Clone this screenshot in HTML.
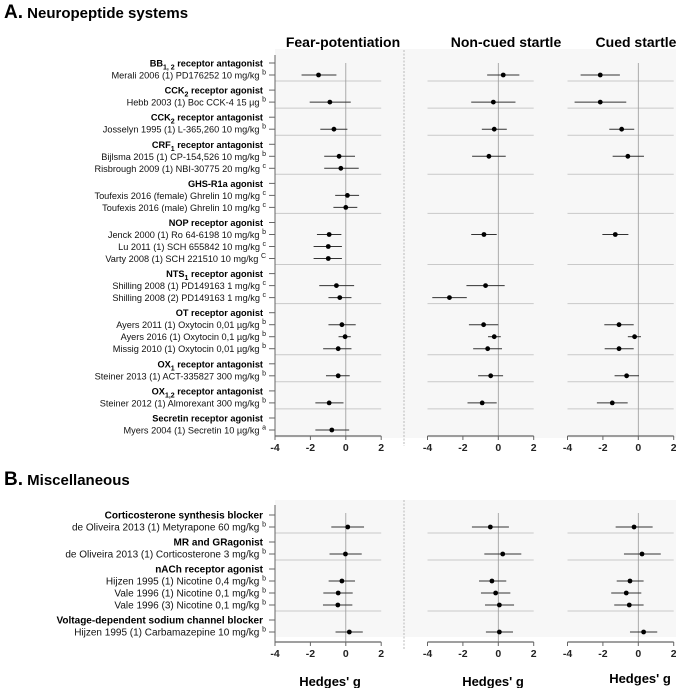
<!DOCTYPE html>
<html><head><meta charset="utf-8"><style>
html,body{margin:0;padding:0;background:#fff}
svg{display:block;font-family:"Liberation Sans",Arial,sans-serif}
</style></head><body>
<svg id="chart" width="676" height="688" viewBox="0 0 676 688" xmlns="http://www.w3.org/2000/svg">
<rect x="275" y="49" width="401" height="389" fill="#f7f7f7"/>
<rect x="275" y="500" width="401" height="137" fill="#f7f7f7"/>
<text x="4" y="18" font-weight="bold" font-size="15"><tspan font-size="19">A.</tspan> Neuropeptide systems</text>
<text x="4" y="485" font-weight="bold" font-size="15"><tspan font-size="19">B.</tspan> Miscellaneous</text>
<text x="343" y="47" text-anchor="middle" font-weight="bold" font-size="14">Fear-potentiation</text>
<text x="506" y="47" text-anchor="middle" font-weight="bold" font-size="14">Non-cued startle</text>
<text x="636" y="47" text-anchor="middle" font-weight="bold" font-size="14">Cued startle</text>
<line x1="404" y1="50" x2="404" y2="446" stroke="#aaa" stroke-width="0.8" stroke-dasharray="2,1.5"/>
<line x1="404" y1="500" x2="404" y2="650" stroke="#aaa" stroke-width="0.8" stroke-dasharray="2,1.5"/>
<text x="330" y="686" text-anchor="middle" font-weight="bold" font-size="13">Hedges' g</text>
<text x="493" y="686" text-anchor="middle" font-weight="bold" font-size="13">Hedges' g</text>
<text x="640" y="683" text-anchor="middle" font-weight="bold" font-size="13">Hedges' g</text>
<g id="plot"></g>
</svg>
<script>
// ---- Panel A data ----
const aGroups = ["BB<tspan font-size='7' dy='3'>1, 2</tspan><tspan dy='-3'> receptor antagonist</tspan>",
 "CCK<tspan font-size='7' dy='3'>2</tspan><tspan dy='-3'> receptor agonist</tspan>",
 "CCK<tspan font-size='7' dy='3'>2</tspan><tspan dy='-3'> receptor antagonist</tspan>",
 "CRF<tspan font-size='7' dy='3'>1</tspan><tspan dy='-3'> receptor antagonist</tspan>",
 "GHS-R1a agonist",
 "NOP receptor agonist",
 "NTS<tspan font-size='7' dy='3'>1</tspan><tspan dy='-3'> receptor agonist</tspan>",
 "OT receptor agonist",
 "OX<tspan font-size='7' dy='3'>1</tspan><tspan dy='-3'> receptor antagonist</tspan>",
 "OX<tspan font-size='7' dy='3'>1,2</tspan><tspan dy='-3'> receptor antagonist</tspan>",
 "Secretin receptor agonist"];
const aStudies = ["Merali 2006 (1) PD176252 10 mg/kg","Hebb 2003 (1) Boc CCK-4 15 µg","Josselyn 1995 (1) L-365,260 10 mg/kg",
 "Bijlsma 2015 (1) CP-154,526 10 mg/kg","Risbrough 2009 (1) NBI-30775 20 mg/kg",
 "Toufexis 2016 (female) Ghrelin 10 mg/kg","Toufexis 2016 (male) Ghrelin 10 mg/kg",
 "Jenck 2000 (1) Ro 64-6198 10 mg/kg","Lu 2011 (1) SCH 655842 10 mg/kg","Varty 2008 (1) SCH 221510 10 mg/kg",
 "Shilling 2008 (1) PD149163 1 mg/kg","Shilling 2008 (2) PD149163 1 mg/kg",
 "Ayers 2011 (1) Oxytocin 0,01 µg/kg","Ayers 2016 (1) Oxytocin 0,1 µg/kg","Missig 2010 (1) Oxytocin 0,01 µg/kg",
 "Steiner 2013 (1) ACT-335827 300 mg/kg","Steiner 2012 (1) Almorexant 300 mg/kg","Myers 2004 (1) Secretin 10 µg/kg"];
const aSup = ["b","b","b","b","c","c","c","b","c","C","c","c","b","b","b","b","b","a"];
const aGroupOf = [0,1,2,3,3,4,4,5,5,5,6,6,7,7,7,8,9,10];
const aFear = [-1.54,-0.9,-0.67,-0.38,-0.28,0.09,0,-0.94,-0.99,-0.99,-0.53,-0.34,-0.22,-0.04,-0.43,-0.43,-0.94,-0.79];
const aFearLo = [-2.5,-2.04,-1.44,-1.22,-1.22,-0.6,-0.7,-1.63,-1.82,-1.82,-1.5,-0.98,-0.98,-0.41,-1.28,-1.12,-1.72,-1.72];
const aFearHi = [-0.53,0.28,0.09,0.52,0.73,0.75,0.65,-0.25,-0.22,-0.22,0.47,0.32,0.56,0.28,0.32,0.22,-0.13,0.19];
const aNon = [0.28,-0.28,-0.23,-0.53,null,null,null,-0.81,null,null,-0.72,-2.76,-0.83,-0.23,-0.6,-0.43,-0.91,null];
const aNonLo = [-0.63,-1.53,-0.93,-1.48,null,null,null,-1.53,null,null,-1.8,-3.73,-1.66,-0.58,-1.42,-1.14,-1.74,null];
const aNonHi = [1.19,0.97,0.48,0.42,null,null,null,-0.09,null,null,0.36,-1.78,0,0.14,0.21,0.27,-0.09,null];
const aCued = [-2.15,-2.15,-0.94,-0.59,null,null,null,-1.3,null,null,null,null,-1.09,-0.21,-1.09,-0.66,-1.47,null];
const aCuedLo = [-3.26,-3.6,-1.64,-1.45,null,null,null,-2.03,null,null,null,null,-1.92,-0.59,-1.9,-1.34,-2.34,null];
const aCuedHi = [-1.04,-0.68,-0.23,0.32,null,null,null,-0.56,null,null,null,null,-0.26,0.15,-0.26,0.04,-0.6,null];
// ---- Panel B data ----
const bGroups = ["Corticosterone synthesis blocker","MR and GRagonist","nACh receptor agonist","Voltage-dependent sodium channel blocker"];
const bStudies = ["de Oliveira 2013 (1) Metyrapone 60 mg/kg","de Oliveira 2013 (1) Corticosterone 3 mg/kg",
 "Hijzen 1995 (1) Nicotine 0,4 mg/kg","Vale 1996 (1) Nicotine 0,1 mg/kg","Vale 1996 (3) Nicotine 0,1 mg/kg",
 "Hijzen 1995 (1) Carbamazepine 10 mg/kg"];
const bSup = ["b","b","b","b","b","b"];
const bGroupOf = [0,1,2,2,2,3];
const bFear = [0.11,-0.02,-0.22,-0.43,-0.45,0.2];
const bFearLo = [-0.82,-0.92,-0.97,-1.27,-1.29,-0.58];
const bFearHi = [1.03,0.9,0.52,0.39,0.37,0.96];
const bNon = [-0.45,0.25,-0.36,-0.15,0.06,0.06];
const bNonLo = [-1.49,-0.79,-1.09,-0.98,-0.75,-0.7];
const bNonHi = [0.6,1.3,0.45,0.68,0.89,0.83];
const bCued = [-0.24,0.21,-0.47,-0.68,-0.51,0.3];
const bCuedLo = [-1.28,-0.81,-1.22,-1.53,-1.36,-0.47];
const bCuedHi = [0.81,1.27,0.3,0.17,0.3,1.07];
const ticks = [-4,-2,0,2];

const NS="http://www.w3.org/2000/svg";
const plot=document.getElementById('plot');
function el(tag,attrs,parent){const e=document.createElementNS(NS,tag);for(const k in attrs)e.setAttribute(k,attrs[k]);(parent||plot).appendChild(e);return e;}
const colX0=[275,427.5,567.5];
const pxPerUnit=17.7;
function xScale(col,v){return colX0[col]+(v+4)*pxPerUnit;}

function drawPanel(p,groups,studies,sups,groupOf,est,lo,hi,yStart,step,gap,axisY,topY,tag,fs){
  const rows=[];let k=0,g=-1;
  studies.forEach((s,i)=>{
    if(groupOf[i]!==g){g=groupOf[i];rows.push({type:'h',g:g,y:yStart+k*step+g*gap});k++;}
    rows.push({type:'s',i:i,g:g,y:yStart+k*step+g*gap});k++;
  });
  const gp=el('g',{},plot);
  
  
  const lastOf={};rows.forEach(r=>{if(r.type==='s')lastOf[r.g]=r.y;});
  for(const gg in lastOf){
    if(+gg===groups.length-1)continue;
    for(let c=0;c<3;c++){
      const ln=el('line',{x1:xScale(c,-4),x2:xScale(c,2),y1:lastOf[gg]+6,y2:lastOf[gg]+6,stroke:'#c9c9c9','stroke-width':1},gp);
      
      
    }
  }
  for(let c=0;c<3;c++){
    const z=el('line',{x1:xScale(c,0),x2:xScale(c,0),y1:topY+8,y2:axisY,stroke:'#999','stroke-width':0.8},gp);
    
    
    const ax=el('line',{x1:xScale(c,-4),x2:xScale(c,2),y1:axisY,y2:axisY,stroke:'#666','stroke-width':1.2},gp);
    
    
    ticks.forEach(t=>{
      const tk=el('line',{x1:xScale(c,t),x2:xScale(c,t),y1:axisY,y2:axisY+4,stroke:'#666'},gp);
      
      
      const tl=el('text',{x:xScale(c,t),y:axisY+15,'text-anchor':'middle','font-size':10.5,'font-weight':'bold','fill':'#222'},gp);
      tl.textContent=t;
      
      
    });
  }
  const la=el('line',{x1:275,x2:275,y1:topY,y2:axisY,stroke:'#666'},gp);
  
  
  rows.forEach(r=>{
    const tk=el('line',{x1:269,x2:275,y1:r.y,y2:r.y,stroke:'#666'},gp);
    
    
    if(r.type==='h'){
      const t=el('text',{x:263,y:r.y+3.5,'text-anchor':'end','font-size':fs,'font-weight':'bold'},gp);
      t.innerHTML=groups[r.g];
      
      
    } else {
      const t=el('text',{x:266,y:r.y+3.5,'text-anchor':'end','font-size':fs,'fill':'#111'},gp);
      t.innerHTML=studies[r.i]+" <tspan font-size='7' dy='-4'>"+sups[r.i]+"</tspan>";
      
      
      for(let c=0;c<3;c++){
        const v=est[c][r.i];if(v===null)continue;
        const ci=el('line',{x1:xScale(c,lo[c][r.i]),x2:xScale(c,hi[c][r.i]),y1:r.y,y2:r.y,stroke:'#333','stroke-width':1},gp);
        
        
        const d=el('circle',{cx:xScale(c,v),cy:r.y,r:2.4,fill:'#000'},gp);
        
        
      }
    }
  });
}
drawPanel('A',aGroups,aStudies,aSup,aGroupOf,[aFear,aNon,aCued],[aFearLo,aNonLo,aCuedLo],[aFearHi,aNonHi,aCuedHi],63,12,3.1,436,55,'panel-a',9.2);
drawPanel('B',bGroups,bStudies,bSup,bGroupOf,[bFear,bNon,bCued],[bFearLo,bNonLo,bCuedLo],[bFearHi,bNonHi,bCuedHi],515,12,3,642,505,'panel-b',10);
</script>
</body></html>
